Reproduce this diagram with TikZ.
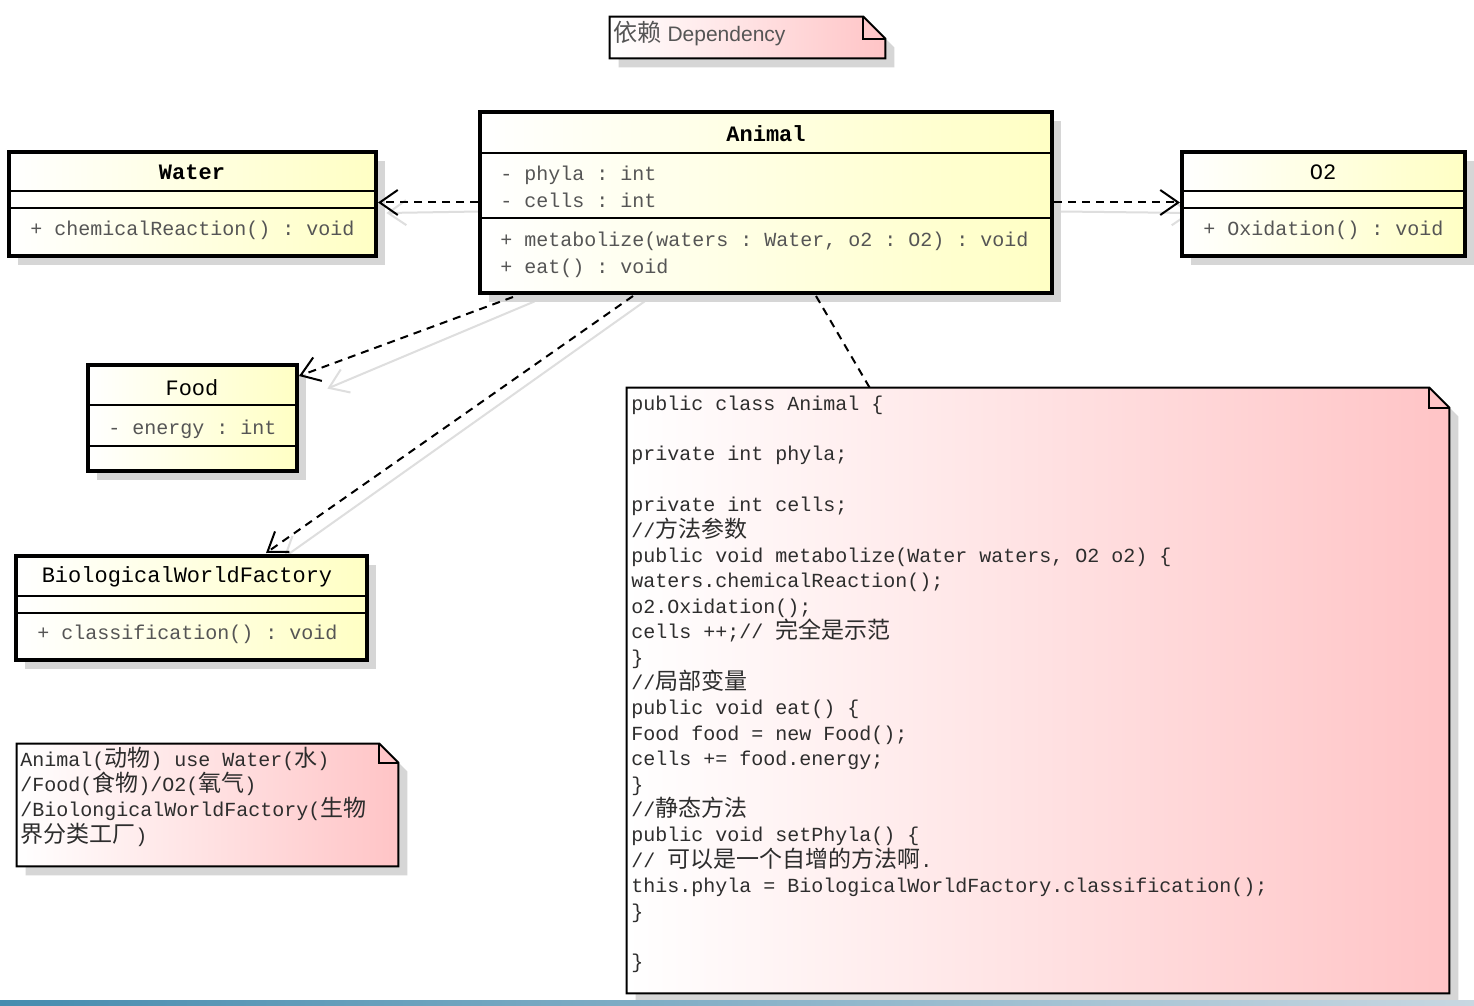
\documentclass[tikz,border=0pt]{standalone}
\usepackage{fontspec}
\setmainfont{Liberation Serif}
\setmonofont{Liberation Mono}
\newfontfamily\cjk{Noto Sans CJK SC}[Scale=1.15]
\newfontfamily\depsans{Liberation Sans}
\usetikzlibrary{arrows.meta,calc,fit,shadows}
\definecolor{classyellow}{RGB}{255,255,196}
\definecolor{notepink}{RGB}{255,196,198}
\definecolor{shadowc}{RGB}{214,214,214}
\definecolor{ghost}{RGB}{222,222,222}
\definecolor{txtgray}{RGB}{85,85,85}
\definecolor{codegray}{RGB}{45,45,45}
\definecolor{barblue}{RGB}{70,140,175}
\definecolor{barlight}{RGB}{200,215,225}
\newcommand\DrawNote[2]{%
  \fill[shadowc] ($(#1.north west)+(9,9)$) -- ($(#1.north east)+(9-#2,9)$) -- ($(#1.north east)+(9,9+#2)$) -- ($(#1.south east)+(9,9)$) -- ($(#1.south west)+(9,9)$) -- cycle;
  \path[draw=black, line width=1pt, left color=white, right color=notepink] (#1.north west) -- ($(#1.north east)+(-#2,0)$) -- ($(#1.north east)+(0,#2)$) -- (#1.south east) -- (#1.south west) -- cycle;
  \draw[line width=1pt] ($(#1.north east)+(-#2,0)$) |- ($(#1.north east)+(0,#2)$);}
\begin{document}
\begin{tikzpicture}[x=0.5pt,y=-0.5pt,
  classbox/.style={draw=black, line width=2pt, left color=white, right color=classyellow, inner sep=0pt,
    drop shadow={shadow xshift=4.5pt, shadow yshift=-4.5pt, fill=shadowc, opacity=1}},
  sepline/.style={line width=0.9pt, draw=black},
  ctitle/.style={font=\ttfamily\fontsize{11}{13}\selectfont, text=black, inner sep=0pt},
  member/.style={font=\ttfamily\fontsize{10}{12}\selectfont, text=txtgray, anchor=base west, inner sep=0pt},
  notetext/.style={font=\ttfamily\fontsize{10}{12.5}\selectfont, text=codegray, anchor=base west, inner sep=0pt},
  dep/.style={line width=1pt, dash pattern=on 4pt off 3pt, -{Straight Barb[length=9pt,width=12.5pt]}},
  depshadow/.style={line width=1pt, draw=ghost, -{Straight Barb[length=9pt,width=12.5pt]}},
  anchorline/.style={line width=1pt, dash pattern=on 4pt off 3pt},
  fitbox/.style={inner sep=0pt}
]
\useasboundingbox (0,0) rectangle (1474,1006);
\fill[white] (0,0) rectangle (1474,1006);

% ---------- invisible frames for the classes and notes ----------
\node[fitbox, fit={(480,112) (1052,293)}] (animalf) {};
\node[fitbox, fit={(9,152) (376,256)}] (waterf) {};
\node[fitbox, fit={(1182,152) (1465,256)}] (o2f) {};
\node[fitbox, fit={(88,365) (297,471)}] (foodf) {};
\node[fitbox, fit={(16,556) (367,660)}] (bwff) {};

% ---------- connector shadows ----------
\draw[depshadow] ($(animalf.south west)+(55,8)$) -- ($(foodf.north east)+(30,24)$);
\draw[depshadow] ($(animalf.south west)+(165,8)$) -- ($(bwff.north west)+(268,2)$);
\draw[depshadow] ($(animalf.west)+(0,9)$) -- ($(waterf.east)+(10,9)$);
\draw[depshadow] ($(animalf.east)+(8,9)$) -- ($(o2f.west)+(10,9)$);

% ---------- notes ----------
\node[fitbox, fit={(610,17) (885,58)}] (depnote) {};
\DrawNote{depnote}{22}
\node[inner sep=0pt, anchor=base west, text=txtgray, font=\depsans\fontsize{10.5}{12}\selectfont] (deptext) at (613,42) {{\cjk 依赖} Dependency};

\node[fitbox, fit={(17,744) (398,866)}] (smallnote) {};
\DrawNote{smallnote}{19}
\node[notetext] (s1) at (20,766) {Animal({\cjk 动物}) use Water({\cjk 水})};
\node[notetext] (s2) at (20,791) {/Food({\cjk 食物})/O2({\cjk 氧气})};
\node[notetext] (s3) at (20,816) {/BiolongicalWorldFactory({\cjk 生物}};
\node[notetext] (s4) at (20,842) {{\cjk 界分类工厂})};

\node[fitbox, fit={(627,388) (1449,993)}] (code) {};
\DrawNote{code}{20}
\foreach \k/\t in {
  1/{public class Animal \{},
  3/{private int phyla;},
  5/{private int cells;},
  6/{//{\cjk 方法参数}},
  7/{public void metabolize(Water waters, O2 o2) \{},
  8/{waters.chemicalReaction();},
  9/{o2.Oxidation();},
  10/{cells ++;// {\cjk 完全是示范}},
  11/{\}},
  12/{//{\cjk 局部变量}},
  13/{public void eat() \{},
  14/{Food food = new Food();},
  15/{cells += food.energy;},
  16/{\}},
  17/{//{\cjk 静态方法}},
  18/{public void setPhyla() \{},
  19/{// {\cjk 可以是一个自增的方法啊}.},
  20/{this.phyla = BiologicalWorldFactory.classification();},
  21/{\}},
  23/{\}}}
{
  \node[notetext] (c\k) at (631,{410+25.4*(\k-1)}) {\t};
}

% ---------- classes ----------
\node[classbox, fit={(480,112) (1052,293)}] (animal) {};
\draw[sepline] ($(animal.north west)+(0,43)$) -- ($(animal.north east)+(0,43)$);
\draw[sepline] ($(animal.north west)+(0,108)$) -- ($(animal.north east)+(0,108)$);
\node[ctitle, font=\ttfamily\bfseries\fontsize{11}{13}\selectfont] (animalt) at (766,134) {Animal};
\node[member] (a1) at (500,181) {- phyla : int};
\node[member] (a2) at (500,207) {- cells : int};
\node[member] (a3) at (500,247) {+ metabolize(waters : Water, o2 : O2) : void};
\node[member] (a4) at (500,273) {+ eat() : void};

\node[classbox, fit={(9,152) (376,256)}] (water) {};
\draw[sepline] ($(water.north west)+(0,41)$) -- ($(water.north east)+(0,41)$);
\draw[sepline] ($(water.north west)+(0,58)$) -- ($(water.north east)+(0,58)$);
\node[ctitle, font=\ttfamily\bfseries\fontsize{11}{13}\selectfont] (watert) at (192,172) {Water};
\node[member] (w1) at (30,235) {+ chemicalReaction() : void};

\node[classbox, fit={(1182,152) (1465,256)}] (o2) {};
\draw[sepline] ($(o2.north west)+(0,41)$) -- ($(o2.north east)+(0,41)$);
\draw[sepline] ($(o2.north west)+(0,58)$) -- ($(o2.north east)+(0,58)$);
\node[ctitle] (o2t) at (1323,172) {O2};
\node[member] (o1) at (1203,235) {+ Oxidation() : void};

\node[classbox, fit={(88,365) (297,471)}] (food) {};
\draw[sepline] ($(food.north west)+(0,42)$) -- ($(food.north east)+(0,42)$);
\draw[sepline] ($(food.north west)+(0,83)$) -- ($(food.north east)+(0,83)$);
\node[ctitle] (foodt) at (192,388) {Food};
\node[member] (f1) at (108,434) {- energy : int};

\node[classbox, fit={(16,556) (367,660)}] (bwf) {};
\draw[sepline] ($(bwf.north west)+(0,42)$) -- ($(bwf.north east)+(0,42)$);
\draw[sepline] ($(bwf.north west)+(0,59)$) -- ($(bwf.north east)+(0,59)$);
\node[ctitle] (bwft) at (187,577) {BiologicalWorldFactory};
\node[member] (b1) at (37,639) {+ classification() : void};

% ---------- connectors ----------
\draw[dep] (animal.west) -- (animal.west -| water.east);
\draw[dep] (animal.east) -- (animal.east -| o2.west);
\draw[dep] ($(animal.south west)+(35,2)$) -- ($(food.north east)+(0,13)$);
\draw[dep] ($(animal.south west)+(155,1)$) -- ($(bwf.north west)+(252,-1)$);
\draw[anchorline] ($(animal.south west)+(338,1)$) -- ($(code.north west)+(243,0)$);

% ---------- bottom strip ----------
\shade[left color=barblue, right color=barlight] (0,1000) rectangle (1474,1006);
\end{tikzpicture}
\end{document}
